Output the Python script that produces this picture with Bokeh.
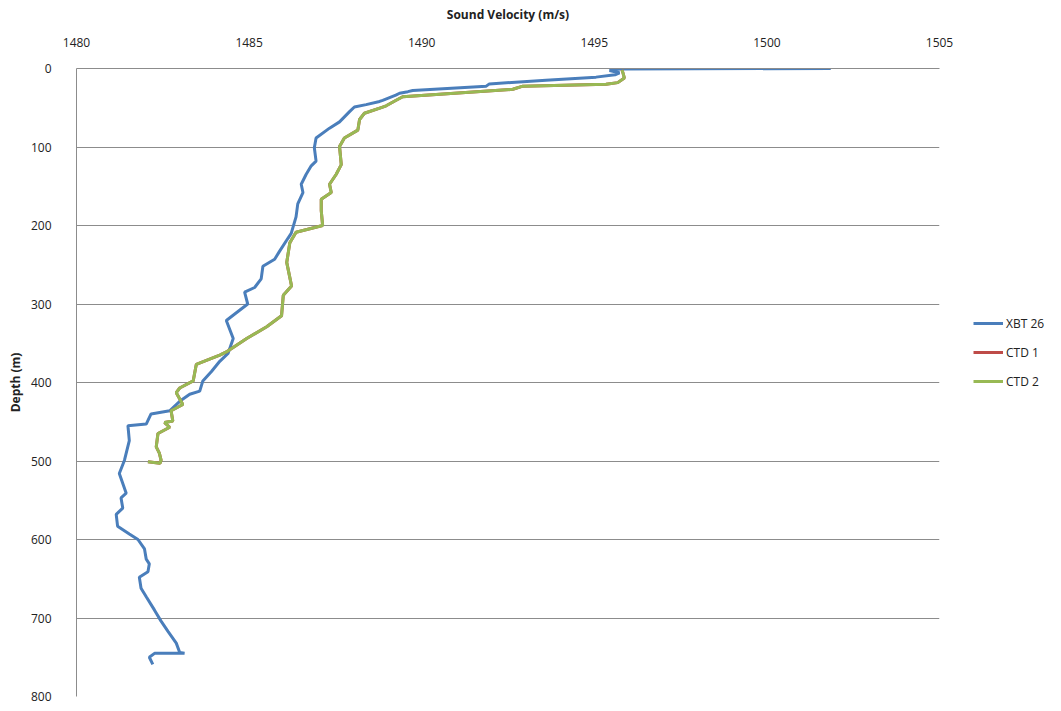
from bokeh.plotting import figure
from bokeh.models import Range1d, FixedTicker, Legend, LegendItem
from bokeh.embed import file_html
from bokeh.resources import INLINE

# ---- data ----
xbt_depth = [0, 0.5, 2.5, 5.5, 8, 11, 15, 19.6, 22.5, 28, 29.5, 31.5, 34, 40.5, 42, 46, 49,
             55, 68, 76, 88.5, 101, 118, 124, 135, 147.5, 158, 172.5, 189, 210, 216, 233, 243,
             252, 268, 279, 285, 300, 321, 344, 363, 373, 386, 398, 411, 415, 424, 436, 440,
             453, 455, 474, 499, 516, 541, 547, 560, 568, 583, 593, 600, 612, 625, 631, 641,
             648, 662, 673, 690, 704, 717, 732, 744, 745, 745, 750, 759]
xbt_vel = [1501.85, 1495.75, 1495.44, 1495.73, 1495.6, 1495.05, 1493.6, 1491.96, 1491.87,
           1489.74, 1489.6, 1489.36, 1489.25, 1488.87, 1488.78, 1488.39, 1488.05, 1487.91,
           1487.62, 1487.33, 1486.94, 1486.89, 1486.94, 1486.8, 1486.65, 1486.51, 1486.56,
           1486.41, 1486.36, 1486.22, 1486.13, 1485.88, 1485.74, 1485.4, 1485.35, 1485.16,
           1484.87, 1484.96, 1484.34, 1484.54, 1484.39, 1484.15, 1483.91, 1483.66, 1483.57,
           1483.28, 1482.99, 1482.7, 1482.16, 1482.02, 1481.49, 1481.53, 1481.39, 1481.24,
           1481.44, 1481.29, 1481.34, 1481.15, 1481.19, 1481.53, 1481.78, 1481.97, 1482.02,
           1482.11, 1482.07, 1481.82, 1481.87, 1482.02, 1482.26, 1482.45, 1482.65, 1482.89,
           1482.99, 1483.13, 1482.26, 1482.11, 1482.21]

ctd2_depth = [2, 5.5, 12, 18, 20, 22.5, 26.5, 36, 40.5, 47.5, 49.5, 57, 65, 78.5, 88.5, 99.5,
              122.5, 135, 147.5, 158, 166.5, 181, 200, 208.5, 222, 247, 277, 289, 315, 329,
              344, 361, 365, 377, 398, 407, 413, 428, 436, 449, 451, 457, 465, 482, 490, 499,
              503, 501]
ctd2_vel = [1495.8, 1495.83, 1495.87, 1495.68, 1495.34, 1492.93, 1492.64, 1489.45, 1489.26,
            1488.97, 1488.85, 1488.34, 1488.2, 1488.15, 1487.76, 1487.62, 1487.67, 1487.52,
            1487.33, 1487.38, 1487.09, 1487.09, 1487.13, 1486.36, 1486.18, 1486.09, 1486.23,
            1485.99, 1485.94, 1485.51, 1484.93, 1484.34, 1484.15, 1483.47, 1483.38, 1482.99,
            1482.89, 1483.08, 1482.74, 1482.79, 1482.55, 1482.7, 1482.36, 1482.31, 1482.4,
            1482.45, 1482.42, 1482.07]

ctd1_depth = list(ctd2_depth)
ctd1_vel = list(ctd2_vel)

x_ticks = [1480, 1485, 1490, 1495, 1500, 1505]
y_ticks = [0, 100, 200, 300, 400, 500, 600, 700, 800]
series_names = ["XBT 26", "CTD 1", "CTD 2"]
colors = ["#4A7EBB", "#BE4B48", "#98B954"]

FONT = "Open Sans"

p = figure(width=1045, height=706, frame_width=863, frame_height=628,
           x_range=Range1d(1480, 1505), y_range=Range1d(800, 0),
           x_axis_location="above", output_backend="svg", toolbar_location=None,
           min_border_left=76, min_border_top=68, min_border_right=106, min_border_bottom=10)
p.outline_line_color = None
p.background_fill_color = "white"

r1 = p.line(xbt_vel, xbt_depth, line_color=colors[0], line_width=3)
r2 = p.line(ctd1_vel, ctd1_depth, line_color=colors[1], line_width=3)
r3 = p.line(ctd2_vel, ctd2_depth, line_color=colors[2], line_width=3)

p.xaxis.ticker = FixedTicker(ticks=x_ticks)
p.yaxis.ticker = FixedTicker(ticks=y_ticks)
p.xgrid.visible = False
p.ygrid.grid_line_color = "#8C8C8C"
p.ygrid.grid_line_width = 1

for ax in (p.xaxis[0], p.yaxis[0]):
    ax.major_tick_line_color = None
    ax.minor_tick_line_color = None
    ax.major_label_text_font = FONT
    ax.major_label_text_font_size = "12px"
    ax.major_label_text_color = "#222222"
    ax.axis_label_text_font = FONT
    ax.axis_label_text_font_size = "12px"
    ax.axis_label_text_font_style = "bold"
    ax.axis_label_text_color = "#222222"
    ax.axis_line_color = "#8C8C8C"

p.xaxis.axis_label = "Sound Velocity (m/s)"
p.yaxis.axis_label = "Depth (m)"
p.xaxis.major_label_standoff = 16
p.xaxis.axis_label_standoff = 12
p.yaxis.major_label_standoff = 19
p.yaxis.axis_label_standoff = 4

legend = Legend(items=[LegendItem(label=series_names[0], renderers=[r1]),
                       LegendItem(label=series_names[1], renderers=[r2]),
                       LegendItem(label=series_names[2], renderers=[r3])],
                location=(34, 305))
legend.border_line_color = None
legend.background_fill_alpha = 0
legend.padding = 0
legend.margin = 0
legend.spacing = 9
legend.glyph_width = 30
legend.label_standoff = 3
legend.label_text_font = FONT
legend.label_text_font_size = "12px"
legend.label_text_color = "#222222"
p.add_layout(legend, "right")

open("out.html", "w").write(file_html(p, INLINE))
